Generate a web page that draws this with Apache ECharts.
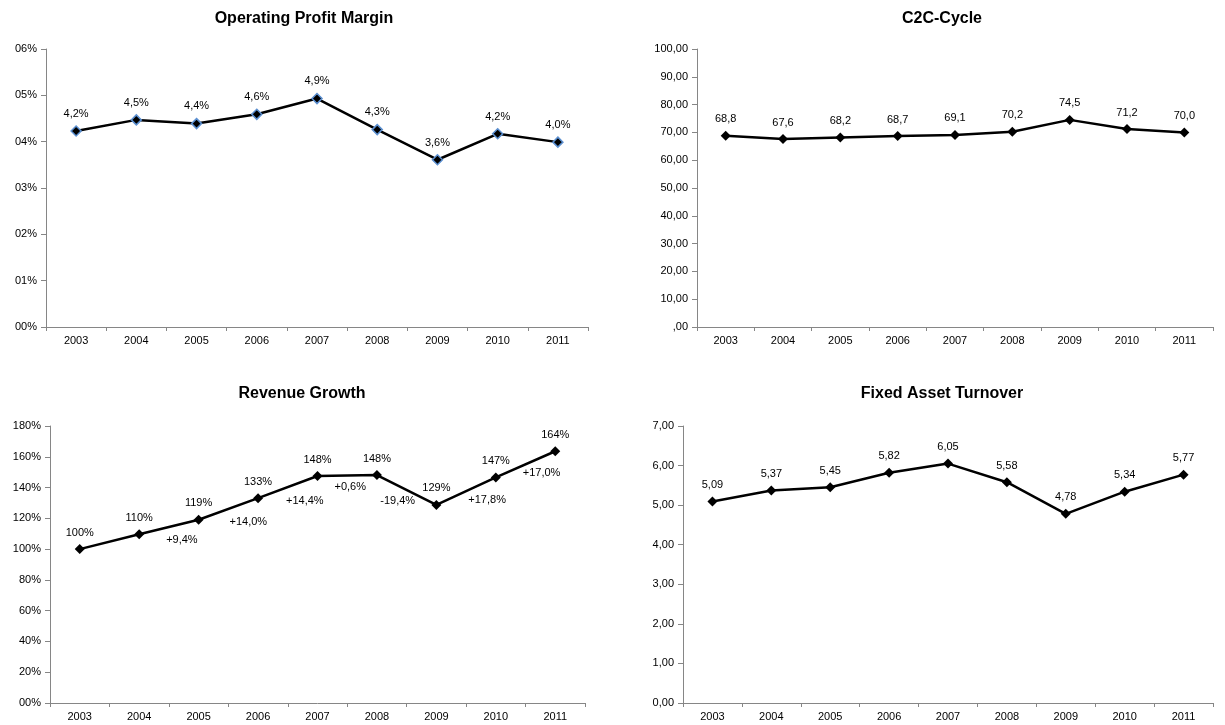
<!DOCTYPE html>
<html>
<head>
<meta charset="utf-8">
<script src="https://cdn.jsdelivr.net/npm/echarts@6/dist/echarts.min.js"></script>
<style>
html, body { margin: 0; padding: 0; background: #fff; }
#chart { width: 1225px; height: 725px; }
</style>
</head>
<body>
<div id="chart"></div>
<script>
// data
const years = ['2003', '2004', '2005', '2006', '2007', '2008', '2009', '2010', '2011'];
const profitMargin = [4.23, 4.47, 4.39, 4.59, 4.93, 4.26, 3.61, 4.17, 3.99];
const c2cCycle = [68.8, 67.6, 68.2, 68.7, 69.1, 70.2, 74.5, 71.2, 70.0];
const revenueIndex = [100, 109.7, 119.1, 133.1, 147.5, 148.1, 128.7, 146.6, 163.6];
// growth (percentage points) between consecutive years, starting with 2004 -> 2005
const revenueGrowth = ['+9,4%', '+14,0%', '+14,4%', '+0,6%', '-19,4%', '+17,8%', '+17,0%'];
const assetTurnover = [5.09, 5.37, 5.45, 5.82, 6.05, 5.58, 4.78, 5.34, 5.77];

const FONT = 'Liberation Sans, Arial, sans-serif';
const AXIS_COLOR = '#868686';

// label nudges for the growth labels (px), purely visual
const growthShift = [[13, 0], [20, 0], [17, 0], [3, -2], [-9, -3], [21, -5], [16, -5]];

const comma = (v, d) => v.toFixed(d).replace('.', ',');

function xAxisFor(gridIndex) {
  return {
    type: 'category',
    gridIndex,
    data: years,
    boundaryGap: true,
    axisLine: { onZero: false, lineStyle: { color: AXIS_COLOR, width: 1 } },
    axisTick: { show: true, length: 4, lineStyle: { color: AXIS_COLOR } },
    axisLabel: { interval: 0, color: '#000', fontSize: 11, fontFamily: FONT, margin: 8 },
    splitLine: { show: false }
  };
}

function yAxisFor(gridIndex, max, interval, formatter) {
  return {
    type: 'value',
    gridIndex,
    min: 0,
    max,
    interval,
    axisLine: { show: true, onZero: false, lineStyle: { color: AXIS_COLOR, width: 1 } },
    axisTick: { show: true, length: 5, lineStyle: { color: AXIS_COLOR } },
    axisLabel: { color: '#000', fontSize: 11, fontFamily: FONT, margin: 9, formatter },
    splitLine: { show: false }
  };
}

function lineSeries(index, data, labelFormatter, border) {
  return {
    type: 'line',
    xAxisIndex: index,
    yAxisIndex: index,
    data,
    symbol: 'diamond',
    symbolSize: 10,
    showSymbol: true,
    lineStyle: { color: '#000', width: 2.5 },
    itemStyle: border
      ? { color: '#000', borderColor: border, borderWidth: 1.5 }
      : { color: '#000' },
    label: {
      show: true,
      position: 'top',
      distance: 6,
      color: '#000',
      fontSize: 11,
      fontFamily: FONT,
      formatter: p => labelFormatter(p.value)
    },
    z: 3
  };
}

function titleFor(text, x, y) {
  return {
    text,
    left: x,
    top: y,
    textAlign: 'center',
    padding: 0,
    textStyle: { fontSize: 16, fontWeight: 'bold', color: '#000', fontFamily: FONT }
  };
}

const pad2Pct = v => String(v).padStart(2, '0') + '%';

const growthPoints = revenueGrowth.map((txt, k) => {
  const i = k + 1;
  return {
    value: [i + 0.5, (revenueIndex[i] + revenueIndex[i + 1]) / 2, txt],
    label: { offset: growthShift[k] }
  };
});

const chart = echarts.init(document.getElementById('chart'), null, { renderer: 'canvas' });
chart.setOption({
  animation: false,
  backgroundColor: '#fff',
  title: [
    titleFor('Operating Profit Margin', 304, 11),
    titleFor('C2C-Cycle', 942, 11),
    titleFor('Revenue Growth', 302, 386),
    titleFor('Fixed Asset Turnover', 942, 386)
  ],
  grid: [
    { left: 46, top: 49, width: 542, height: 278 },
    { left: 697, top: 49, width: 516, height: 278 },
    { left: 50, top: 426, width: 535, height: 277 },
    { left: 683, top: 426, width: 530, height: 277 }
  ],
  xAxis: [
    xAxisFor(0), xAxisFor(1), xAxisFor(2), xAxisFor(3),
    { type: 'value', gridIndex: 2, min: -0.5, max: 8.5, show: false }
  ],
  yAxis: [
    yAxisFor(0, 6, 1, pad2Pct),
    yAxisFor(1, 100, 10, v => (v === 0 ? ',00' : comma(v, 2))),
    yAxisFor(2, 180, 20, pad2Pct),
    yAxisFor(3, 7, 1, v => comma(v, 2))
  ],
  series: [
    lineSeries(0, profitMargin, v => comma(v, 1) + '%', '#5b8fd0'),
    lineSeries(1, c2cCycle, v => comma(v, 1)),
    lineSeries(2, revenueIndex, v => Math.round(v) + '%'),
    lineSeries(3, assetTurnover, v => comma(v, 2)),
    {
      type: 'scatter',
      xAxisIndex: 4,
      yAxisIndex: 2,
      data: growthPoints,
      symbolSize: 0,
      silent: true,
      itemStyle: { opacity: 1 },
      label: {
        show: true,
        position: 'bottom',
        distance: 8,
        color: '#000',
        opacity: 1,
        fontSize: 11,
        fontFamily: FONT,
        formatter: p => p.value[2]
      },
      z: 4
    }
  ]
});
</script>
</body>
</html>
